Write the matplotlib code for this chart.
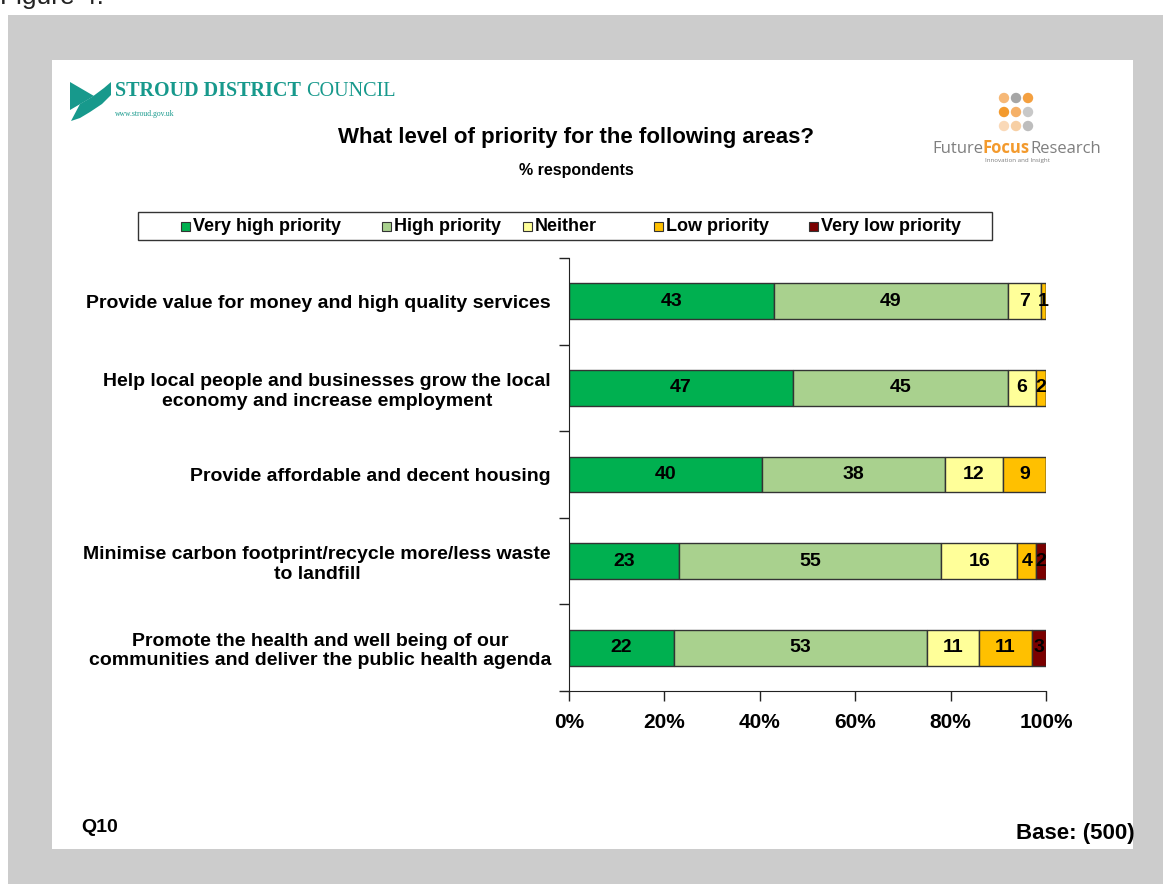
import matplotlib.pyplot as plt
import matplotlib.patches as mpatches
import numpy as np

plt.rcParams['font.family'] = ['Liberation Sans', 'DejaVu Sans']

categories = [
    'Provide value for money and high quality services',
    'Help local people and businesses grow the local\neconomy and increase employment',
    'Provide affordable and decent housing',
    'Minimise carbon footprint/recycle more/less waste\nto landfill',
    'Promote the health and well being of our\ncommunities and deliver the public health agenda',
]
series = ['Very high priority', 'High priority', 'Neither', 'Low priority', 'Very low priority']
very_high = [43, 47, 40, 23, 22]
high = [49, 45, 38, 55, 53]
neither = [7, 6, 12, 16, 11]
low = [1, 2, 9, 4, 11]
very_low = [0, 0, 0, 2, 3]
colors = ['#00B050', '#A9D18E', '#FFFF99', '#FFC000', '#7B0000']
x_ticks = [0, 20, 40, 60, 80, 100]

W, H = 1163, 884
fig = plt.figure(figsize=(W / 100, H / 100), dpi=100, facecolor='white')

# background layer in pixel coordinates (origin top-left)
bg = fig.add_axes([0, 0, 1, 1], zorder=0)
bg.set_xlim(0, W)
bg.set_ylim(H, 0)
bg.axis('off')
bg.add_patch(mpatches.Rectangle((8, 15), W - 8, H - 15, facecolor='#CCCCCC', edgecolor='none'))
bg.add_patch(mpatches.Rectangle((52, 60), 1133 - 52, 849 - 60, facecolor='white', edgecolor='none'))
bg.text(0, 4, 'Figure 4.', fontsize=19, color='#222222', va='baseline', ha='left')


def text_after(x, y, s, **kw):
    """Draw s starting at pixel x and return the x where it ends."""
    t = bg.text(x, y, s, va='baseline', ha='left', **kw)
    fig.canvas.draw()
    return x + t.get_window_extent().width


# Stroud District Council logo
teal = '#17998C'
bg.add_patch(mpatches.Polygon([(70, 82), (94, 96), (70, 110)], closed=True, facecolor=teal, edgecolor='none'))
bg.add_patch(mpatches.Polygon([(71, 121), (80, 104), (92, 97), (104, 88), (111, 82),
                               (111, 95), (102, 104), (90, 112), (80, 118)],
                              closed=True, facecolor=teal, edgecolor='none'))
xe = text_after(115, 96, 'STROUD DISTRICT', fontsize=14.5, color=teal,
                family='Liberation Serif', fontweight='bold')
text_after(xe + 5, 96, 'COUNCIL', fontsize=14.5, color=teal, family='Liberation Serif')
bg.text(115, 116, 'www.stroud.gov.uk', fontsize=5.5, color=teal, family='Liberation Serif',
        va='baseline', ha='left')

# Future Focus Research logo
dot_cols = [['#F6B877', '#A6A6A6', '#F4A040'],
            ['#F39A2D', '#F5B067', '#C8C8C8'],
            ['#FAD9B8', '#F7CFA4', '#BDBDBD']]
for r, yy in enumerate([98, 112, 126]):
    for c, xx in enumerate([1004, 1016, 1028]):
        bg.add_patch(mpatches.Circle((xx, yy), 5.2, facecolor=dot_cols[r][c], edgecolor='none'))
xe = text_after(932, 153, 'Future', fontsize=12, color='#7F7F7F', family='Open Sans')
xe = text_after(xe, 153, 'Focus', fontsize=12, color='#F39A2D', family='Open Sans', fontweight='bold')
text_after(xe, 153, 'Research', fontsize=12, color='#7F7F7F', family='Open Sans')
bg.text(1017, 162, 'Innovation and Insight', fontsize=4.5, color='#7F7F7F', family='Open Sans',
        va='baseline', ha='center')

# titles and footers
bg.text(576, 137, 'What level of priority for the following areas?', fontsize=16,
        fontweight='bold', ha='center', va='center')
bg.text(576, 171, '% respondents', fontsize=11.5, fontweight='bold', ha='center', va='center')
bg.text(81, 827, 'Q10', fontsize=14, fontweight='bold', ha='left', va='center')
bg.text(1135, 833, 'Base: (500)', fontsize=16, fontweight='bold', ha='right', va='center')

# legend box
bg.add_patch(mpatches.Rectangle((138, 212), 992 - 138, 28, facecolor='white',
                                edgecolor='#333333', linewidth=1))
for name, col, lx in zip(series, colors, [185, 386, 527, 658, 813]):
    bg.add_patch(mpatches.Rectangle((lx - 4.5, 221.5), 9, 9, facecolor=col,
                                    edgecolor='#333333', linewidth=0.8))
    bg.text(lx + 8, 231, name, fontsize=13, fontweight='bold', ha='left', va='baseline')

# stacked 100% bar chart
ax = fig.add_axes([569 / W, 193 / H, (1046 - 569) / W, (691 - 258) / H], zorder=1)
ax.patch.set_alpha(0)
data = np.array([very_high, high, neither, low, very_low], dtype=float)
shares = data / data.sum(axis=0)
ypos = np.arange(len(categories))
left = np.zeros(len(categories))
for i in range(len(series)):
    bars = ax.barh(ypos, shares[i], left=left, height=0.415, color=colors[i],
                   edgecolor='#333333', linewidth=1)
    labels = [str(int(v)) if v > 0 else '' for v in data[i]]
    ax.bar_label(bars, labels=labels, label_type='center', fontsize=14,
                 fontweight='bold', color='black')
    left += shares[i]

ax.set_xlim(0, 1)
ax.set_ylim(len(categories) - 0.5, -0.5)
ax.set_xticks([t / 100 for t in x_ticks])
ax.set_xticklabels([f'{t}%' for t in x_ticks], fontsize=15, fontweight='bold')
ax.set_yticks(np.arange(-0.5, len(categories), 1))
ax.set_yticklabels([])
ax.set_yticks(ypos, categories, minor=True)
for lab in ax.get_yticklabels(minor=True):
    lab.set_multialignment('center')
    lab.set_fontsize(14)
    lab.set_fontweight('bold')
ax.tick_params(axis='y', which='minor', length=0, pad=13)
ax.tick_params(axis='both', which='major', direction='out', length=7, width=1, color='#222222')
ax.tick_params(axis='x', pad=9)
for s in ['top', 'right']:
    ax.spines[s].set_visible(False)
for s in ['left', 'bottom']:
    ax.spines[s].set_color('#222222')

fig.savefig('out.png', dpi=100, facecolor='white')
